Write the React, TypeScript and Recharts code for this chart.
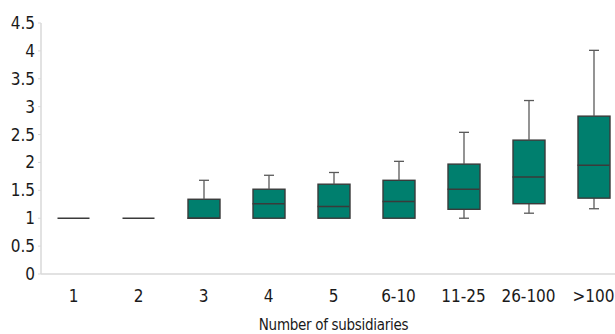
import { ComposedChart, Bar, Scatter, XAxis, YAxis } from "recharts";

const groups = ["1", "2", "3", "4", "5", "6-10", "11-25", "26-100", ">100"];
const minVals = [1, 1, 1, 1, 1, 1, 1.0, 1.09, 1.17];
const q1Vals = [1, 1, 1, 1, 1, 1, 1.16, 1.26, 1.36];
const medianVals = [1, 1, 1, 1.26, 1.21, 1.3, 1.52, 1.74, 1.95];
const q3Vals = [1, 1, 1.34, 1.52, 1.61, 1.68, 1.97, 2.4, 2.83];
const maxVals = [1, 1, 1.68, 1.77, 1.82, 2.02, 2.54, 3.11, 4.01];
const yTicks = [0, 0.5, 1, 1.5, 2, 2.5, 3, 3.5, 4, 4.5];

// stacked segments: invisible base, lower whisker, box (q1-q3), upper whisker; median drawn by a scatter
const data = groups.map((name, i) => ({
  name,
  base: minVals[i],
  lowWhisker: q1Vals[i] - minVals[i],
  box: q3Vals[i] - q1Vals[i],
  highWhisker: maxVals[i] - q3Vals[i],
  median: medianVals[i],
}));

const FONT = "'Liberation Sans Narrow', 'DejaVu Sans Condensed', sans-serif";
const BOX_FILL = "#007F6E";
const BOX_STROKE = "#3a3a3a";
const WHISKER = "#5a5a5a";
const AXIS = "#d9d9d9";
const BOX_W = 32;

const Empty = () => <g />;

const BoxPart = (props: any) => {
  const { x, y, width, height } = props;
  if (!(height > 0)) return <g />;
  return <rect x={x} y={y} width={width} height={height} fill={BOX_FILL} stroke={BOX_STROKE} strokeWidth={1.4} />;
};

const LowWhisker = (props: any) => {
  const { x, y, width, height } = props;
  if (!(height > 0.5)) return <g />;
  const cx = x + width / 2;
  return (
    <g stroke={WHISKER} strokeWidth={1.3}>
      <line x1={cx} x2={cx} y1={y} y2={y + height} />
      <line x1={cx - 5} x2={cx + 5} y1={y + height} y2={y + height} />
    </g>
  );
};

const HighWhisker = (props: any) => {
  const { x, y, width, height } = props;
  if (!(height > 0.5)) return <g />;
  const cx = x + width / 2;
  return (
    <g stroke={WHISKER} strokeWidth={1.3}>
      <line x1={cx} x2={cx} y1={y} y2={y + height} />
      <line x1={cx - 5} x2={cx + 5} y1={y} y2={y} />
    </g>
  );
};

const Median = (props: any) => {
  const { cx, cy } = props;
  return <line x1={cx - BOX_W / 2} x2={cx + BOX_W / 2} y1={cy} y2={cy} stroke={BOX_STROKE} strokeWidth={1.5} />;
};

export default function App() {
  return (
    <div
      style={{
        position: "fixed",
        left: 0,
        top: 0,
        width: 615,
        height: 334,
        overflow: "hidden",
        background: "#fff",
      }}
    >
      <ComposedChart width={630} height={334} data={data} margin={{ top: 23, right: 4, left: 0, bottom: 0 }} barSize={BOX_W}>
        <XAxis
          dataKey="name"
          height={60}
          axisLine={{ stroke: AXIS, strokeWidth: 1.5 }}
          tickLine={false}
          tickSize={6}
          tickMargin={10}
          tick={{ fill: "#1a1a1a", fontSize: 17, fontFamily: FONT }}
          interval={0}
          label={{
            value: "Number of subsidiaries",
            position: "insideBottom",
            offset: 4,
            fill: "#1a1a1a",
            fontSize: 15,
            letterSpacing: -0.3,
            fontFamily: FONT,
          }}
        />
        <YAxis
          width={41}
          domain={[0, 4.5]}
          ticks={yTicks}
          interval={0}
          axisLine={{ stroke: AXIS, strokeWidth: 1.5 }}
          tickLine={{ stroke: AXIS }}
          tickSize={3}
          tickMargin={3}
          tick={{ fill: "#1a1a1a", fontSize: 17, fontFamily: FONT }}
        />
        <Bar dataKey="base" stackId="box" shape={Empty} isAnimationActive={false} />
        <Bar dataKey="lowWhisker" stackId="box" shape={LowWhisker} isAnimationActive={false} />
        <Bar dataKey="box" stackId="box" shape={BoxPart} isAnimationActive={false} />
        <Bar dataKey="highWhisker" stackId="box" shape={HighWhisker} isAnimationActive={false} />
        <Scatter dataKey="median" shape={Median} isAnimationActive={false} />
      </ComposedChart>
    </div>
  );
}
